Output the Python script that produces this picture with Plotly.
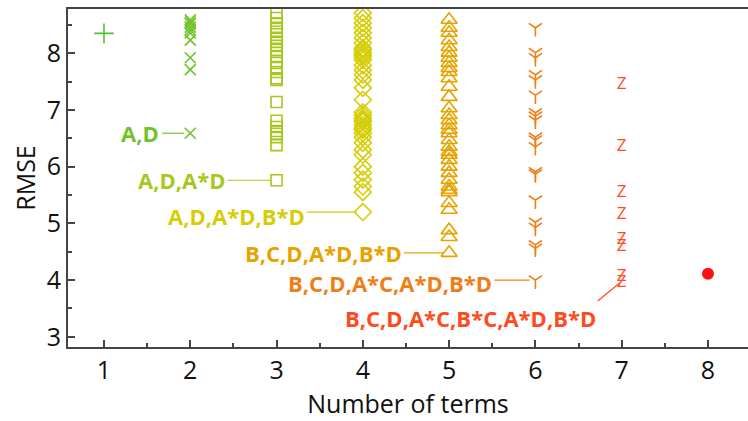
import plotly.graph_objects as go

# ---------------- data ----------------
terms_1 = [8.35]
terms_2 = [8.59, 8.55, 8.52, 8.46, 8.41, 8.36, 8.23, 7.92, 7.71, 6.59]
terms_3 = [8.71, 8.62, 8.53, 8.45, 8.38, 8.27, 8.20, 8.13, 8.06, 7.95, 7.83, 7.74,
           7.67, 7.56, 7.53, 7.14, 6.81, 6.70, 6.63, 6.58, 6.52, 6.38, 5.76]
terms_4 = [8.71, 8.62, 8.53, 8.45, 8.36, 8.27, 8.18, 8.09, 8.06, 8.01, 7.97, 7.93,
           7.88, 7.79, 7.70, 7.62, 7.53, 7.39, 7.18, 6.96, 6.91, 6.86, 6.82, 6.79,
           6.73, 6.68, 6.65, 6.59, 6.52, 6.42, 6.30, 6.21, 6.00, 5.89, 5.77, 5.65,
           5.55, 5.20]
terms_5 = [8.59, 8.45, 8.36, 8.23, 8.11, 8.01, 7.92, 7.83, 7.74, 7.67, 7.56, 7.41,
           7.23, 7.03, 6.91, 6.82, 6.73, 6.65, 6.59, 6.47, 6.35, 6.26, 6.21, 6.12,
           6.00, 5.89, 5.77, 5.65, 5.59, 5.55, 5.36, 5.24, 4.88, 4.76, 4.48]
terms_6 = [8.45, 8.01, 7.92, 7.62, 7.53, 7.26, 6.95, 6.89, 6.82, 6.52, 6.47, 6.35,
           5.91, 5.87, 5.41, 5.02, 4.93, 4.62, 4.56, 4.00]
terms_7 = [7.44, 6.35, 5.54, 5.15, 4.71, 4.59, 4.06, 3.95]
terms_8 = [4.11]

best_labels = ["A,D", "A,D,A*D", "A,D,A*D,B*D", "B,C,D,A*D,B*D",
               "B,C,D,A*C,A*D,B*D", "B,C,D,A*C,B*C,A*D,B*D"]

x_ticks = [1, 2, 3, 4, 5, 6, 7, 8]
y_ticks = [3, 4, 5, 6, 7, 8]

# ---------------- styles ----------------
colors = ["#4fc236", "#70c42a", "#a6c81e", "#d6cd06", "#e6a300", "#f07d16", "#ff4a1c", "#ff1010"]
symbols = ["cross-thin-open", "x-thin-open", "square-open", "diamond-open",
           "triangle-up-open", "y-down-open", None, "circle"]
sizes = [14, 11, 11, 13, 14, 11, None, 12]

series = [terms_1, terms_2, terms_3, terms_4, terms_5, terms_6, terms_7, terms_8]

fig = go.Figure()
for i, vals in enumerate(series):
    n = x_ticks[i]
    xs = [n] * len(vals)
    if n == 7:
        fig.add_trace(go.Scatter(
            x=xs, y=vals, mode="text", text=["Z"] * len(vals),
            textfont=dict(family="Open Sans", size=17, color=colors[i]),
            textposition="middle center", showlegend=False, hoverinfo="skip"))
    elif n == 8:
        fig.add_trace(go.Scatter(
            x=xs, y=vals, mode="markers",
            marker=dict(symbol="circle", size=sizes[i], color=colors[i], line=dict(width=0)),
            showlegend=False))
    else:
        fig.add_trace(go.Scatter(
            x=xs, y=vals, mode="markers",
            marker=dict(symbol=symbols[i], size=sizes[i], color=colors[i],
                        line=dict(width=1.6, color=colors[i])),
            showlegend=False))

# labels for best model at each number of terms (2..6), with leader lines
label_gap = [(-29, -28, -6, 0), (-50, -49, -6, 0), (-56, -56, -6, -4),
             (-45, -45, -6, 0), (-41, -41, -6, -3)]
label_cols = colors[1:7]
label_font_size = 22
for j in range(5):
    n = x_ticks[j + 1]
    ybest = min(series[j + 1])
    txt_shift, l0, l1, ysh = label_gap[j]
    fig.add_annotation(x=n, y=ybest, xref="x", yref="y", text=best_labels[j],
                       showarrow=False, xanchor="right", yanchor="middle",
                       xshift=txt_shift, yshift=ysh,
                       font=dict(family="Open Sans", size=label_font_size,
                                 color=label_cols[j], weight="bold"))
    fig.add_shape(type="line", xref="x", yref="y", xsizemode="pixel", xanchor=n,
                  x0=l0, x1=l1, y0=ybest, y1=ybest,
                  line=dict(color=label_cols[j], width=1.2))

# last label (7 terms), diagonal leader
y7 = min(terms_7)
fig.add_annotation(x=7, y=y7, xref="x", yref="y", text=best_labels[5],
                   showarrow=False, xanchor="right", yanchor="middle",
                   xshift=-24, yshift=-35,
                   font=dict(family="Open Sans", size=label_font_size,
                             color=label_cols[5], weight="bold"))
fig.add_shape(type="line", xref="x", yref="y", xsizemode="pixel", xanchor=7,
              ysizemode="pixel", yanchor=y7,
              x0=-24, x1=-2, y0=-18, y1=0,
              line=dict(color=label_cols[5], width=1.2))

axis_font = dict(family="Open Sans", size=25, color="#111")
fig.update_layout(
    width=748, height=421,
    margin=dict(l=68, r=0, t=9, b=74),
    paper_bgcolor="white", plot_bgcolor="white",
    showlegend=False,
    xaxis=dict(range=[0.583, 8.464], tickvals=x_ticks, ticks="inside", ticklen=7,
               tickwidth=1.5, tickcolor="#444", showgrid=False, zeroline=False,
               showline=True, linecolor="#444", linewidth=2, mirror=True,
               tickfont=axis_font,
               minor=dict(ticks="inside", ticklen=4, dtick=0.5, tick0=0.5,
                          tickcolor="#444", showgrid=False),
               title=dict(text="Number of terms", font=dict(family="Open Sans", size=25, color="#111"),
                          standoff=6)),
    yaxis=dict(range=[2.82, 8.78], tickvals=y_ticks, ticks="inside", ticklen=7,
               tickwidth=1.5, tickcolor="#444", showgrid=False, zeroline=False,
               showline=True, linecolor="#444", linewidth=2, mirror=False,
               tickfont=axis_font,
               minor=dict(ticks="inside", ticklen=4, dtick=0.5, tick0=0.5,
                          tickcolor="#444", showgrid=False),
               title=dict(text="RMSE", font=dict(family="Open Sans", size=25, color="#111"),
                          standoff=4)),
)

fig.write_html("out.html")
